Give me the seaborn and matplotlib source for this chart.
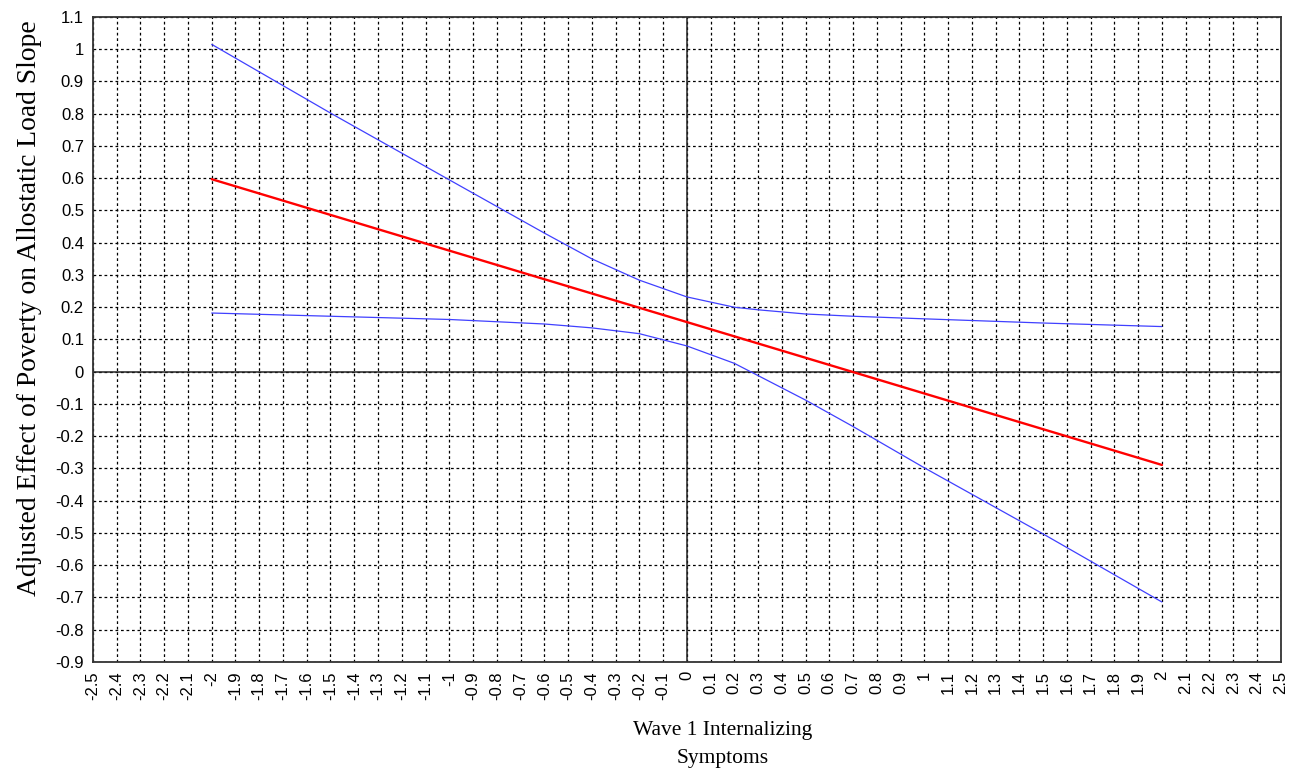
import matplotlib
matplotlib.use("Agg")
import matplotlib.pyplot as plt
import seaborn as sns
import numpy as np
import pandas as pd

# simple slope estimate (red) and confidence band (blue)
slope_x = [-2.0, 2.0]
slope_y = [0.597, -0.289]

band_x = [-2.0, -1.5, -1.0, -0.6, -0.4, -0.2, 0.0, 0.2, 0.3, 0.5, 0.7, 1.0, 1.5, 2.0]
upper_y = [1.015, 0.802, 0.595, 0.430, 0.350, 0.284, 0.232, 0.200, 0.192, 0.179, 0.172, 0.164, 0.151, 0.140]
lower_y = [0.182, 0.172, 0.162, 0.148, 0.136, 0.118, 0.080, 0.026, -0.012, -0.088, -0.170, -0.298, -0.503, -0.714]

x_ticks = np.round(np.arange(-2.5, 2.51, 0.1), 1) + 0.0
y_ticks = np.round(np.arange(-0.9, 1.11, 0.1), 1) + 0.0

sns.set_style("white")
plt.rcParams["axes.unicode_minus"] = False
plt.rcParams["font.family"] = ["Liberation Sans", "DejaVu Sans"]
plt.rcParams["text.color"] = "black"
plt.rcParams["axes.labelcolor"] = "black"
plt.rcParams["xtick.color"] = "black"
plt.rcParams["ytick.color"] = "black"

fig = plt.figure(figsize=(12.91, 7.71), dpi=100)
ax = fig.add_axes([0.072, 0.1414, 0.920, 0.8366])

band = pd.DataFrame({"x": band_x * 2,
                     "y": upper_y + lower_y,
                     "bound": ["upper"] * len(band_x) + ["lower"] * len(band_x)})
sns.lineplot(data=band, x="x", y="y", units="bound", estimator=None,
             color="#4040ff", linewidth=0.9, ax=ax, zorder=3)
sns.lineplot(x=slope_x, y=slope_y, color="#ff0000", linewidth=1.7, ax=ax, zorder=4)

ax.axhline(0, color="#222222", linewidth=1.1, zorder=2)
ax.axvline(0, color="#222222", linewidth=1.1, zorder=2)

ax.set_xlim(-2.5, 2.5)
ax.set_ylim(-0.9, 1.1)
ax.set_xticks(x_ticks)
ax.set_yticks(y_ticks)
ax.set_xticklabels([f"{v + 0.0:g}" for v in x_ticks], rotation=90, fontsize=12)
ax.set_yticklabels([f"{v + 0.0:g}" for v in y_ticks], fontsize=12)
ax.tick_params(direction="out", length=5, width=1, color="#333333", pad=1.5)

ax.grid(True, color="black", linestyle=(0, (2.2, 2.2)), linewidth=0.9, zorder=1)
for s in ax.spines.values():
    s.set_color("#333333")
    s.set_linewidth(1.3)

ax.set_xlabel("Wave 1 Internalizing\nSymptoms", family="Liberation Serif",
              fontsize=15.5, linespacing=1.65)
ax.xaxis.set_label_coords(0.53, -0.092)
ax.set_ylabel("Adjusted Effect of Poverty on Allostatic Load Slope",
              family="Liberation Serif", fontsize=19.8)
ax.yaxis.set_label_coords(-0.043, 0.549)

fig.savefig("out.png", dpi=100)
